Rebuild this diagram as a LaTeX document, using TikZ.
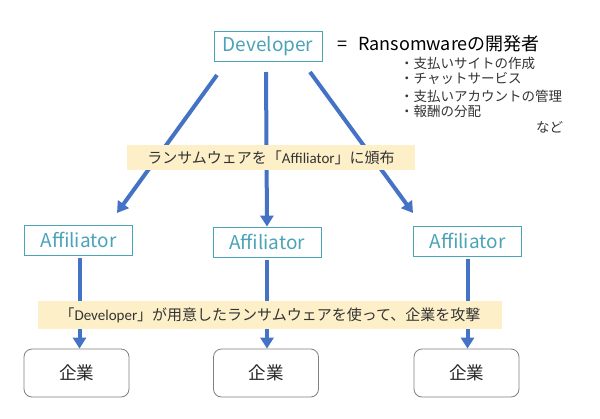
\documentclass[tikz,border=0pt]{standalone}
\usepackage{fontspec}
\setmainfont{Noto Sans CJK JP}
\newfontfamily\cjk{Noto Sans CJK JP}
\newfontfamily\carl{Carlito}
\usetikzlibrary{arrows.meta}
\definecolor{arrowblue}{HTML}{4472C4}
\definecolor{tealtext}{HTML}{4BA3B8}
\definecolor{banner}{HTML}{FDF0C9}
\definecolor{boxgray}{HTML}{808080}
\tikzset{
  rolebox/.style={draw=tealtext, line width=0.8pt, text=tealtext, minimum width=108pt, minimum height=30pt, inner sep=0pt, font=\cjk\fontsize{19}{21}\selectfont},
  corpbox/.style={draw=boxgray, line width=0.8pt, rounded corners=8pt, minimum width=105pt, minimum height=48pt, inner sep=0pt, font=\cjk\fontsize{17.5}{19}\selectfont, text=black!85},
  bannerbox/.style={fill=banner, inner sep=0pt, font=\cjk\fontsize{15}{17}\selectfont, text=black!80},
  flow/.style={draw=arrowblue, line width=4pt, -{Triangle[width=13pt,length=11pt]}},
  bullet/.style={anchor=west, inner sep=0pt, font=\cjk\fontsize{13.5}{15}\selectfont, text=black!80}
}
\begin{document}
\begin{tikzpicture}[x=1pt,y=-1pt]
\useasboundingbox[fill=white] (0,0) rectangle (600,418);
% nodes
\node[rolebox] (dev) at (268,46) {Developer};
\node[anchor=west, inner sep=0pt, font=\cjk\fontsize{18}{20}\selectfont] (eq) at (337,44) {=\hspace{11pt}Ransomwareの開発者};
\node[bullet] (b1) at (400,63) {・支払いサイトの作成};
\node[bullet] (b2) at (400,79) {・チャットサービス};
\node[bullet] (b3) at (400,96) {・支払いアカウントの管理};
\node[bullet] (b4) at (400,111) {・報酬の分配};
\node[bullet] (etc) at (536,127) {など};

\node[rolebox] (a1) at (78.5,240) {Affiliator};
\node[rolebox] (a2) at (267,242) {Affiliator};
\node[rolebox] (a3) at (467.5,241) {Affiliator};

\node[corpbox] (c1) at (76.5,373) {企業};
\node[corpbox] (c2) at (266,373) {企業};
\node[corpbox] (c3) at (466.5,373) {企業};

\coordinate (s1) at (217,75);
\coordinate (s2) at (266,72);
\coordinate (s3) at (310,72);
\coordinate (t1) at (117,213);
\coordinate (t3) at (413,213);

\draw[flow] (s1) -- (t1);
\draw[flow] (s2) -- (a2.north);
\draw[flow] (s3) -- (t3);

\draw[flow] ([xshift=1pt]a1.south) ++(0,3) coordinate (u1) (u1) -- (c1.north -| u1);
\draw[flow] (a2.south) ++(0,3) coordinate (u2) (u2) -- (c2.north -| u2);
\draw[flow] (a3.south) ++(0,3) coordinate (u3) (u3) -- (c3.north -| u3);

% banners
\node[bannerbox, minimum width=288pt, minimum height=25pt] (ban1) at (271,157.5) {ランサムウェアを「{\carl Affiliator}」に頒布};
\node[bannerbox, minimum width=464pt, minimum height=28pt] (ban2) at (270,315) {「{\carl Developer}」が用意したランサムウェアを使って、企業を攻撃};
\end{tikzpicture}
\end{document}
